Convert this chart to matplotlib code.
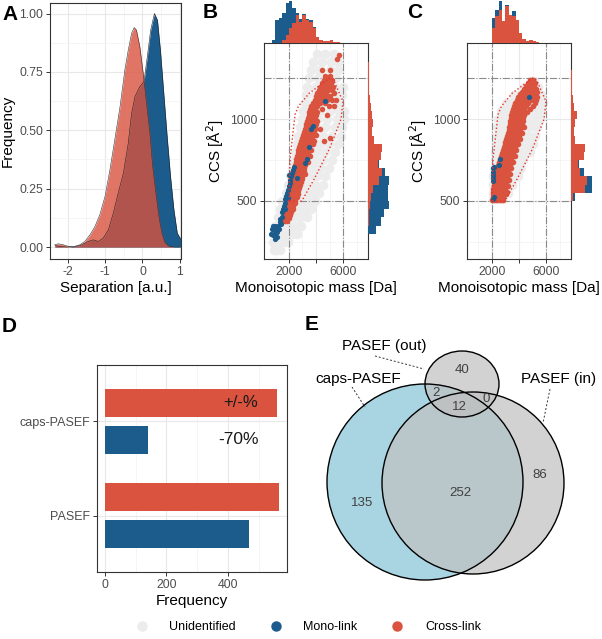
import numpy as np
import matplotlib.pyplot as plt
from matplotlib.patches import Circle, Ellipse, Polygon
from matplotlib.lines import Line2D
from matplotlib.ticker import FixedLocator

plt.rcParams['font.family'] = ['Liberation Sans', 'DejaVu Sans']

BLUE = '#1b5c8c'
RED = '#d9533f'
GREY = '#ececec'

# ---------------- A: separation densities
sep_red_x = [-2.34, -2.25, -2.12, -1.98, -1.85, -1.67, -1.54, -1.40, -1.27, -1.14, -1.00, -0.87,
             -0.74, -0.60, -0.47, -0.38, -0.29, -0.22, -0.16, -0.07, 0.02, 0.11, 0.20, 0.27,
             0.36, 0.45, 0.52, 0.60, 0.70, 0.85, 1.00]
sep_red_y = [0.010, 0.014, 0.010, 0.003, 0.0, 0.010, 0.024, 0.053, 0.088, 0.138, 0.217, 0.330,
             0.459, 0.600, 0.758, 0.843, 0.915, 0.940, 0.929, 0.858, 0.744, 0.615, 0.487, 0.350,
             0.230, 0.120, 0.060, 0.020, 0.005, 0.0, 0.0]
sep_blue_x = [-2.34, -2.03, -1.67, -1.45, -1.31, -1.18, -1.05, -0.91, -0.78, -0.65, -0.51, -0.38,
              -0.29, -0.20, -0.07, 0.04, 0.13, 0.22, 0.32, 0.40, 0.48, 0.57, 0.66, 0.75, 0.84,
              0.93, 1.00, 1.04]
sep_blue_y = [0.006, 0.0, 0.006, 0.024, 0.031, 0.024, 0.038, 0.074, 0.145, 0.230, 0.316, 0.444,
              0.573, 0.644, 0.687, 0.708, 0.815, 0.929, 1.000, 0.972, 0.843, 0.658, 0.473, 0.302,
              0.160, 0.060, 0.040, 0.035]

# ---------------- B / C: mass vs CCS (rows: ccs, masses)
b_grey_rows = [
    (200, [900, 1100, 1320]),
    (250, [850, 1060, 1290, 1600, 1900]),
    (300, [900, 1150, 1450, 1800, 2200, 2600]),
    (350, [1000, 1300, 1650, 2050, 2500, 2900]),
    (400, [1150, 1500, 1900, 2300, 2800, 3300]),
    (450, [1300, 1700, 2150, 2600, 3100, 3650]),
    (500, [1500, 1900, 2400, 2900, 3400, 3900]),
    (550, [1750, 2150, 2600, 3150, 3700, 4250]),
    (600, [1950, 2350, 2800, 3300, 3900, 4500]),
    (650, [2100, 2550, 3000, 3500, 4100, 4700]),
    (700, [2250, 2700, 3200, 3700, 4300, 4950]),
    (750, [2350, 2850, 3350, 3900, 4500, 5150]),
    (800, [2450, 2950, 3500, 4100, 4700, 5400]),
    (850, [2600, 3100, 3700, 4300, 4950, 5650]),
    (900, [2700, 3250, 3850, 4500, 5200, 5850]),
    (950, [2800, 3350, 4000, 4700, 5400, 5950]),
    (1000, [2950, 3500, 4150, 4850, 5550, 6050]),
    (1050, [3050, 3650, 4300, 5000, 5700, 6100]),
    (1100, [3150, 3750, 4450, 5150, 5800]),
    (1150, [3250, 3900, 4600, 5300, 5900]),
    (1200, [3350, 4000, 4700, 5400, 6000]),
    (1250, [3450, 4150, 4850, 5500]),
    (1300, [3600, 4300, 5000, 5600]),
    (1350, [3800, 4450, 5100, 5600]),
    (1400, [4100, 4700, 5300]),
]
b_red_rows = [
    (380, [1560, 1700, 1830]), (398, [1610, 1760, 1900, 2010]),
    (416, [1660, 1800, 1950, 2080]), (434, [1700, 1850, 2000, 2150]),
    (452, [1740, 1900, 2060, 2220, 2330]), (470, [1790, 1950, 2110, 2270]),
    (488, [1840, 2000, 2160, 2330, 2460]), (506, [1880, 2050, 2210, 2370]),
    (524, [1930, 2090, 2260, 2430, 2600]), (542, [1970, 2140, 2310, 2480, 2650]),
    (560, [2020, 2190, 2360, 2530, 2700]), (578, [2060, 2230, 2400, 2580, 2760]),
    (596, [2110, 2280, 2450, 2630, 2820]), (614, [2150, 2320, 2500, 2680, 2870]),
    (632, [2200, 2370, 2550, 2730, 2930]), (650, [2250, 2420, 2600, 2780, 2980]),
    (668, [2300, 2470, 2650, 2830, 3030, 3150]), (686, [2350, 2520, 2700, 2880, 3080]),
    (704, [2400, 2570, 2750, 2930, 3120]), (722, [2440, 2620, 2800, 2980, 3180]),
    (740, [2490, 2670, 2850, 3030, 3230, 3400]), (758, [2540, 2720, 2900, 3080, 3280]),
    (776, [2600, 2770, 2950, 3130, 3330, 3520]), (794, [2650, 2820, 3000, 3190, 3380]),
    (812, [2700, 2880, 3060, 3250, 3440, 3650]), (830, [2760, 2940, 3120, 3310, 3500]),
    (848, [2830, 3000, 3180, 3370, 3560, 3780]), (866, [2900, 3070, 3250, 3440, 3630, 3850, 4600]),
    (884, [2960, 3140, 3320, 3500, 3700, 5050]), (902, [3030, 3210, 3390, 3570, 3770, 3980]),
    (920, [3100, 3280, 3460, 3640, 3840]), (938, [3170, 3350, 3530, 3710, 3900, 4300]),
    (956, [3230, 3410, 3590, 3770, 3960]), (974, [3290, 3470, 3650, 3830, 4020]),
    (992, [3340, 3520, 3700, 3880, 4060]), (1010, [3400, 3580, 3760, 3940]),
    (1028, [3450, 3630, 3810, 4000, 4800]), (1046, [3500, 3690, 3880, 4060]),
    (1064, [3560, 3760, 3960, 4450]), (1082, [3620, 3840, 4100, 4950, 5300]),
    (1100, [3750, 4000, 4300, 4650]), (1120, [3900, 4200, 4500, 4800, 5150, 5450]),
    (1140, [4000, 4350, 4700, 5000]), (1160, [4100, 4400, 4750, 5300]),
    (1180, [4250, 4550, 4900, 5150]), (1200, [4300, 4650, 4950, 5250]),
    (1220, [4450, 4800, 5100]), (1240, [4600, 4900, 5200]),
    (1265, [4700, 5050]), (1300, [4450, 5000]), (1370, [5550]), (1395, [5730]),
]
b_blue_mass = [700, 760, 820, 880, 940, 1000, 1060, 1120, 1180, 1240, 1300, 800, 950, 1100, 1350,
               1420, 1480, 1500, 1560, 1620, 1680, 1740, 1800, 1860, 1920, 1980, 2040, 2100, 2160,
               2220, 2290, 2360, 1700, 1900, 2600, 3200, 3300, 3500, 3650, 3800, 4690, 2000]
b_blue_ccs = [300, 330, 290, 320, 270, 300, 340, 310, 350, 330, 370, 350, 345, 280, 390,
              360, 400, 430, 450, 470, 490, 510, 530, 550, 570, 590, 610, 630, 650,
              670, 690, 710, 450, 520, 640, 730, 760, 830, 940, 960, 1112, 660]

c_grey_rows = [
    (510, [2050, 2300, 2600, 2850]),
    (550, [2050, 2300, 2600, 2900, 3150]),
    (600, [2100, 2350, 2650, 2950, 3250, 3500]),
    (650, [2100, 2400, 2700, 3000, 3300, 3650, 3950]),
    (700, [2150, 2450, 2750, 3050, 3400, 3750, 4150]),
    (750, [2200, 2500, 2800, 3150, 3500, 3900, 4300]),
    (800, [2250, 2550, 2900, 3250, 3600, 4000, 4450, 4850]),
    (850, [2300, 2600, 2950, 3300, 3700, 4150, 4600, 5050]),
    (900, [2350, 2700, 3050, 3400, 3800, 4250, 4700, 5200]),
    (950, [2400, 2750, 3100, 3500, 3950, 4400, 4850, 5350]),
    (1000, [2450, 2800, 3200, 3600, 4050, 4500, 5000, 5550]),
    (1050, [2650, 2950, 3350, 3750, 4200, 4650, 5150, 5700]),
    (1100, [3050, 3400, 3850, 4300, 4800, 5300, 5750]),
    (1150, [3650, 4000, 4450, 4900, 5350, 5650]),
    (1200, [4350, 4700, 5100, 5400]),
    (1235, [4900, 5100]),
]
c_red_rows = [
    (505, [2030, 2180, 2330, 2480, 2640, 2800]), (522, [2040, 2200, 2360, 2520, 2680, 2850]),
    (540, [2060, 2220, 2380, 2540, 2700, 2870, 3050]), (558, [2080, 2240, 2400, 2570, 2740, 2910, 3100]),
    (576, [2110, 2270, 2430, 2600, 2770, 2950]), (594, [2150, 2310, 2470, 2640, 2810, 2990, 3180]),
    (612, [2190, 2350, 2510, 2680, 2850, 3030]), (630, [2230, 2390, 2550, 2720, 2890, 3070, 3250]),
    (648, [2280, 2440, 2600, 2770, 2940, 3110]), (666, [2330, 2490, 2650, 2820, 2990, 3160, 3350]),
    (684, [2380, 2540, 2700, 2870, 3040, 3210]), (702, [2430, 2590, 2750, 2920, 3090, 3260, 3430]),
    (720, [2480, 2640, 2800, 2970, 3140, 3310]), (738, [2540, 2700, 2860, 3030, 3200, 3370, 3550]),
    (756, [2600, 2760, 2920, 3090, 3260, 3430]), (774, [2660, 2820, 2980, 3150, 3320, 3490, 3680]),
    (792, [2720, 2880, 3040, 3210, 3380, 3550]), (810, [2790, 2950, 3110, 3280, 3450, 3620, 3800]),
    (828, [2860, 3020, 3180, 3350, 3520, 3690]), (846, [2930, 3090, 3250, 3420, 3590, 3760, 3950]),
    (864, [3000, 3160, 3320, 3490, 3660, 3830]), (882, [3070, 3230, 3390, 3560, 3730, 3900, 4100]),
    (900, [3130, 3290, 3460, 3630, 3800, 3970]), (918, [3180, 3350, 3520, 3690, 3860, 4040, 4250]),
    (936, [3230, 3400, 3570, 3740, 3920, 4100]), (954, [3280, 3450, 3620, 3800, 3980, 4160, 4350]),
    (972, [3320, 3490, 3670, 3850, 4030, 4210]), (990, [3360, 3530, 3710, 3890, 4070, 4260]),
    (1008, [3400, 3580, 3760, 3940, 4120, 4320]), (1026, [3440, 3620, 3800, 3990, 4180, 4400]),
    (1044, [3480, 3670, 3860, 4050, 4250, 4600]), (1062, [3530, 3720, 3920, 4120, 4350, 4850]),
    (1080, [3600, 3800, 4000, 4250, 4500, 5000]), (1098, [3700, 3900, 4150, 4400, 4700, 5150]),
    (1116, [3850, 4050, 4300, 4600, 4900, 5250]), (1134, [3950, 4200, 4450, 4750, 5050, 5350]),
    (1152, [4100, 4350, 4650, 4950, 5200]), (1170, [4250, 4500, 4800, 5100, 5350]),
    (1188, [4400, 4650, 4950, 5250]), (1206, [4550, 4800, 5100]),
    (1224, [4700, 4950, 5150]), (1242, [4850, 5050]),
]
c_blue_mass = [2040, 2060, 2080, 2050, 2100, 2150, 2540, 2170, 2060, 4770, 2600]
c_blue_ccs = [640, 660, 680, 700, 620, 710, 720, 526, 515, 1138, 760]

# filter region (dotted) in mass/CCS
region = [(2000, 500), (2080, 760), (2450, 1030), (2700, 1080), (3500, 1160), (5000, 1252),
          (5300, 1240), (6000, 1110), (5850, 1000), (5000, 820), (3900, 640), (2950, 500)]

# marginal histograms (heights in arbitrary units)
b_top_start = [750, 1000, 1250, 1500, 1750, 2000, 2250, 2500, 2750, 3000, 3250, 3500, 3750,
               4000, 4250, 4500, 4750, 5000, 5250, 5500, 5750]
b_top_red = [0, 0, 0, 8, 25, 45, 60, 85, 62, 85, 68, 62, 45, 18, 10, 6, 5, 10, 4, 2, 1]
b_top_blue = [10, 70, 75, 82, 95, 82, 45, 5, 10, 3, 4, 6, 3, 0, 0, 0, 0, 0, 0, 0, 0]
b_right_start = [300, 350, 400, 450, 500, 550, 600, 650, 700, 750, 800, 850, 900, 950, 1000,
                 1050, 1100, 1150, 1200, 1250, 1300]
b_right_red = [0, 2, 4, 6, 8, 14, 32, 40, 28, 38, 40, 18, 13, 14, 13, 8, 6, 2, 4, 4, 2]
b_right_blue = [22, 35, 43, 56, 50, 44, 28, 10, 4, 0, 0, 0, 0, 0, 0, 0, 0, 0, 0, 0, 0]

c_top_start = [2000, 2250, 2500, 2750, 3000, 3250, 3500, 3750, 4000, 4250, 4500, 4750, 5000, 5250]
c_top_red = [45, 80, 100, 65, 110, 85, 80, 70, 30, 12, 5, 10, 7, 2]
c_top_blue = [30, 20, 27, 0, 5, 0, 15, 0, 0, 0, 0, 0, 0, 0]
c_right_start = [500, 550, 600, 650, 700, 750, 800, 850, 900, 950, 1000, 1050, 1100, 1150,
                 1200, 1250]
c_right_red = [6, 40, 47, 27, 20, 37, 40, 12, 10, 12, 17, 8, 6, 4, 4, 3]
c_right_blue = [6, 20, 13, 10, 4, 0, 0, 0, 0, 0, 0, 0, 0, 0, 0, 0]

# ---------------- D: bars
d_methods = ['PASEF', 'caps-PASEF']
d_cross = [566, 560]
d_mono = [468, 140]

# ---------------- E: venn counts
venn_counts = {'out': 40, 'caps_out': 2, 'all': 12, 'in_out': 0,
               'caps': 135, 'caps_in': 252, 'in': 86}

W, H = 602, 639
fig = plt.figure(figsize=(W / 100, H / 100), dpi=100)


def px_axes(l, t, r, b):
    return fig.add_axes([l / W, 1 - b / H, (r - l) / W, (b - t) / H])


def bw(ax):
    for s in ax.spines.values():
        s.set_color('#333333')
        s.set_linewidth(0.8)
    ax.tick_params(colors='#333333', labelcolor='#4d4d4d', labelsize=8.8, length=3, width=0.7, pad=2)
    ax.tick_params(which='minor', length=0)
    ax.grid(True, which='major', color='#e8e8e8', lw=0.8)
    ax.grid(True, which='minor', color='#f2f2f2', lw=0.5)
    ax.set_axisbelow(True)


def flat(rows):
    m = [v for c, ms in rows for v in ms]
    c = [c for c, ms in rows for v in ms]
    return m, c


# ---- A
axA = px_axes(50, 3, 181, 259)
bw(axA)
axA.fill_between(sep_blue_x, sep_blue_y, color=BLUE, lw=0)
axA.plot(sep_blue_x, sep_blue_y, color='#222222', lw=0.4)
axA.fill_between(sep_red_x, sep_red_y, color=RED, alpha=0.8, lw=0)
axA.plot(sep_red_x, sep_red_y, color='#333333', lw=0.4)
axA.set_xlim(-2.47, 1.03)
axA.set_ylim(-0.051, 1.045)
axA.set_xticks([-2, -1, 0, 1])
axA.set_xticklabels(['-2', '-1', '0', '1'])
axA.set_yticks([0, 0.25, 0.5, 0.75, 1.0])
axA.set_yticklabels(['0.00', '0.25', '0.50', '0.75', '1.00'])
axA.xaxis.set_minor_locator(FixedLocator([-1.5, -0.5, 0.5]))
axA.yaxis.set_minor_locator(FixedLocator([0.125, 0.375, 0.625, 0.875]))
axA.set_xlabel('Separation [a.u.]', fontsize=11, labelpad=2)
axA.set_ylabel('Frequency', fontsize=11, labelpad=3)


# ---- B and C
def scatter_panel(l, grey_rows, red_rows, blue_m, blue_c, top, right):
    ax = px_axes(l, 43, l + 104, 259)
    bw(ax)
    gm, gc = flat(grey_rows)
    ax.scatter(gm, gc, s=48, color=GREY, lw=0, zorder=2)
    for x in (2000, 6000):
        ax.axvline(x, color='#8a8a8a', ls='-.', lw=0.8, zorder=2.5)
    for y in (500, 1250):
        ax.axhline(y, color='#8a8a8a', ls='-.', lw=0.8, zorder=2.5)
    rm, rc = flat(red_rows)
    ax.scatter(rm, rc, s=16, color=RED, lw=0, zorder=3)
    ax.scatter(blue_m, blue_c, s=14, color=BLUE, lw=0, zorder=4)
    ax.add_patch(Polygon(region, closed=True, fill=False, ec='#e8302a', ls=(0, (1, 1.6)),
                         lw=1.0, zorder=5))
    ax.set_xlim(150, 7850)
    ax.set_ylim(145, 1467)
    ax.set_xticks([2000, 4000, 6000])
    ax.set_xticklabels(['2000', '', '6000'])
    ax.set_yticks([500, 1000])
    ax.xaxis.set_minor_locator(FixedLocator([1000, 3000, 5000, 7000]))
    ax.yaxis.set_minor_locator(FixedLocator([250, 750, 1250]))
    ax.set_xlabel('Monoisotopic mass [Da]', fontsize=11, labelpad=2)
    ax.set_ylabel('CCS [Å$^2$]', fontsize=11, labelpad=3)

    ts, tr, tb = top
    axt = px_axes(l, 0, l + 104, 43)
    axt.bar(ts, tr, width=250, align='edge', color=RED, lw=0)
    axt.bar(ts, tb, width=250, bottom=tr, align='edge', color=BLUE, lw=0)
    axt.set_xlim(150, 7850)
    axt.set_ylim(0, 129)
    axt.axis('off')

    rs, rr, rb = right
    axr = px_axes(l + 104, 43, l + 128, 259)
    axr.barh(rs, rr, height=50, align='edge', color=RED, lw=0)
    axr.barh(rs, rb, height=50, left=rr, align='edge', color=BLUE, lw=0)
    axr.set_ylim(145, 1467)
    axr.set_xlim(0, 70)
    axr.axis('off')


scatter_panel(264, b_grey_rows, b_red_rows, b_blue_mass, b_blue_ccs,
              (b_top_start, b_top_red, b_top_blue), (b_right_start, b_right_red, b_right_blue))
scatter_panel(467, c_grey_rows, c_red_rows, c_blue_mass, c_blue_ccs,
              (c_top_start, c_top_red, c_top_blue), (c_right_start, c_right_red, c_right_blue))

# ---- D
axD = px_axes(97, 365, 287, 572)
bw(axD)
ypos = np.arange(1, len(d_methods) + 1)
axD.barh(ypos + 0.2, d_cross, height=0.3, color=RED, lw=0)
axD.barh(ypos - 0.2, d_mono, height=0.3, color=BLUE, lw=0)
axD.set_xlim(-26, 592)
axD.set_ylim(0.4, 2.6)
axD.set_yticks(ypos)
axD.set_yticklabels(d_methods)
axD.set_xticks([0, 200, 400])
axD.xaxis.set_minor_locator(FixedLocator([100, 300, 500]))
axD.tick_params(axis='y', labelsize=9)
axD.set_xlabel('Frequency', fontsize=11, labelpad=2)
axD.text(440, 2.2, '+/-%', fontsize=12, ha='center', va='center', color='#1a1a1a')
axD.text(435, 1.81, '-70%', fontsize=12.5, ha='center', va='center', color='#1a1a1a')

# ---- E: venn (axes in pixel units)
axE = px_axes(300, 330, 602, 600)
axE.set_xlim(300, 602)
axE.set_ylim(600, 330)
axE.axis('off')
axE.add_patch(Circle((425, 482), 98, fc='#a9d5e3', ec='none', zorder=1))
axE.add_patch(Circle((473, 483), 91, fc='#c0c0c0', alpha=0.7, ec='none', zorder=2))
axE.add_patch(Ellipse((462, 384), 74, 66, fc='#c0c0c0', alpha=0.7, ec='none', zorder=3))
axE.add_patch(Circle((473, 483), 91, fill=False, ec='black', lw=1, zorder=4))
axE.add_patch(Circle((425, 482), 98, fill=False, ec='black', lw=1, zorder=4))
axE.add_patch(Ellipse((462, 384), 74, 66, fill=False, ec='black', lw=1, zorder=4))
num_pos = {'out': (462, 370), 'caps_out': (436, 393), 'all': (459, 407), 'in_out': (486, 399),
           'caps': (362, 503), 'caps_in': (460, 493), 'in': (540, 475)}
for k, (x, y) in num_pos.items():
    axE.text(x, y, str(venn_counts[k]), fontsize=9.5, color='#404040', ha='center', va='center',
             zorder=6)
axE.text(384, 346, 'PASEF (out)', fontsize=11, ha='center', va='center')
axE.text(358, 379, 'caps-PASEF', fontsize=11, ha='center', va='center')
axE.text(559, 379, 'PASEF (in)', fontsize=11, ha='center', va='center')
for (x0, y0), (x1, y1) in [((375, 356), (424, 369)), ((352, 387), (365, 407)), ((550, 389), (543, 423))]:
    axE.plot([x0, x1], [y0, y1], color='#333333', ls=(0, (2, 2)), lw=0.7)

# ---- panel letters
for lab, x, y in [('A', 2, 15), ('B', 203, 13), ('C', 407, 12), ('D', 2, 326), ('E', 305, 324)]:
    fig.text(x / W, 1 - y / H, lab, fontsize=15, fontweight='bold', va='center', ha='left')

# ---- legend
handles = [Line2D([], [], ls='', marker='o', ms=6.5, color=c) for c in (GREY, BLUE, RED)]
fig.legend(handles, ['Unidentified', 'Mono-link', 'Cross-link'], loc='center',
           bbox_to_anchor=(305 / W, 1 - 627 / H), ncol=3, frameon=False, fontsize=9,
           handletextpad=1.2, columnspacing=2.2)

fig.savefig('out.png', dpi=100)
